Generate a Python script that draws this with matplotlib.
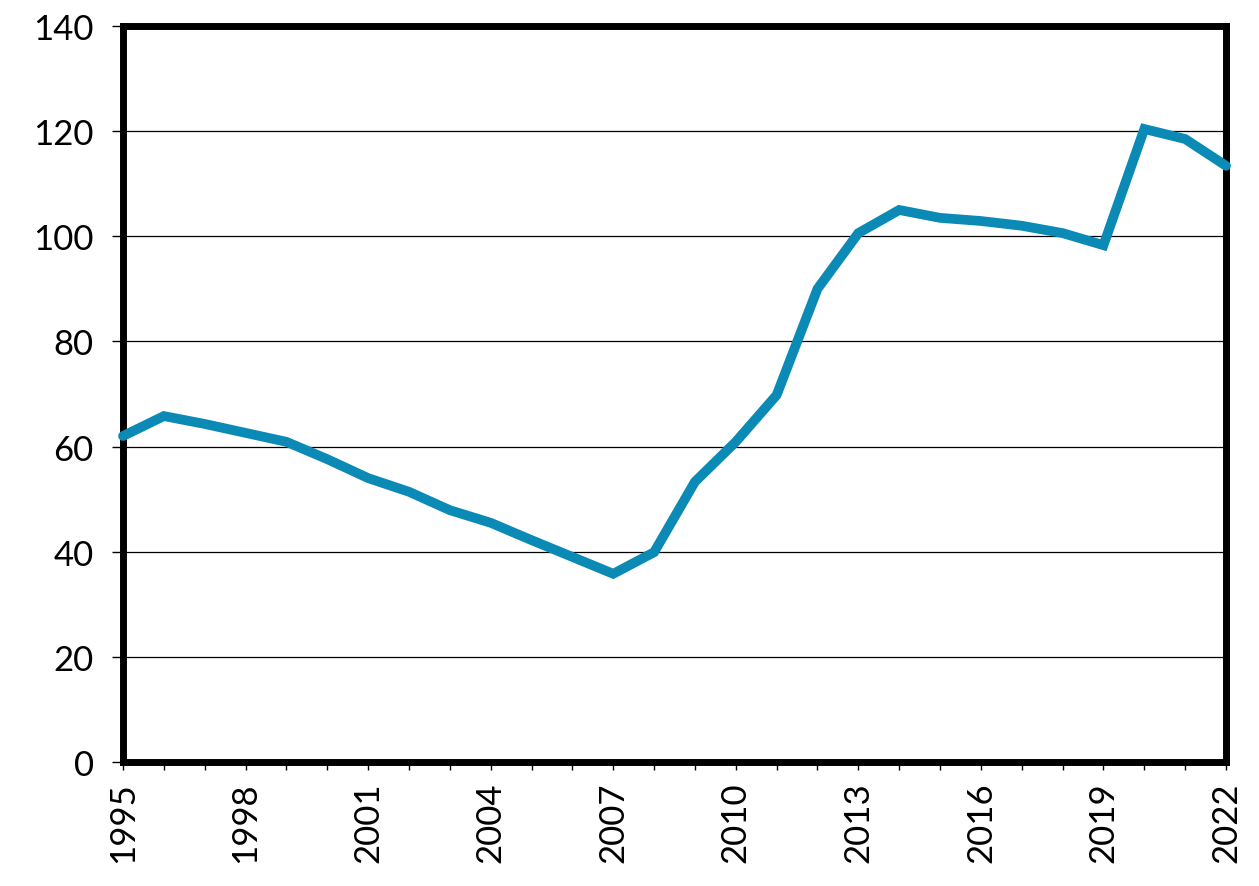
import matplotlib.pyplot as plt

years = list(range(1995, 2023))
values = [62.0, 65.8, 64.3, 62.6, 60.9, 57.6, 54.0, 51.4, 47.9, 45.5,
          42.2, 39.0, 35.8, 39.9, 53.3, 60.9, 69.8, 90.0, 100.6, 105.0,
          103.5, 102.9, 102.0, 100.6, 98.3, 120.4, 118.5, 113.4]
yticks = [0, 20, 40, 60, 80, 100, 120, 140]
xlabels = list(range(1995, 2023, 3))

plt.rcParams['font.family'] = ['Lato', 'DejaVu Sans']

fig = plt.figure(figsize=(12.59, 8.87), dpi=100)
ax = fig.add_axes([0.0977, 0.1398, 0.8761, 0.8298])

ax.plot(years, values, color="#0a8ab5", linewidth=7, solid_capstyle="round",
        solid_joinstyle="miter", zorder=3, clip_on=False)

ax.set_xlim(1995, 2022)
ax.set_ylim(0, 140)
ax.set_yticks(yticks)
ax.set_xticks(years, minor=True)
ax.set_xticks(xlabels)
ax.set_xticklabels([str(y) for y in xlabels], rotation=90)

ax.grid(axis="y", color="black", linewidth=0.9)
ax.set_axisbelow(True)
for s in ax.spines.values():
    s.set_linewidth(5)
    s.set_color("black")

ax.tick_params(axis="y", labelsize=25, length=8, width=1, direction="out", pad=13)
ax.tick_params(axis="x", which="both", labelsize=25, length=6, width=1,
               direction="out", pad=8)

fig.savefig("out.png", dpi=100)
